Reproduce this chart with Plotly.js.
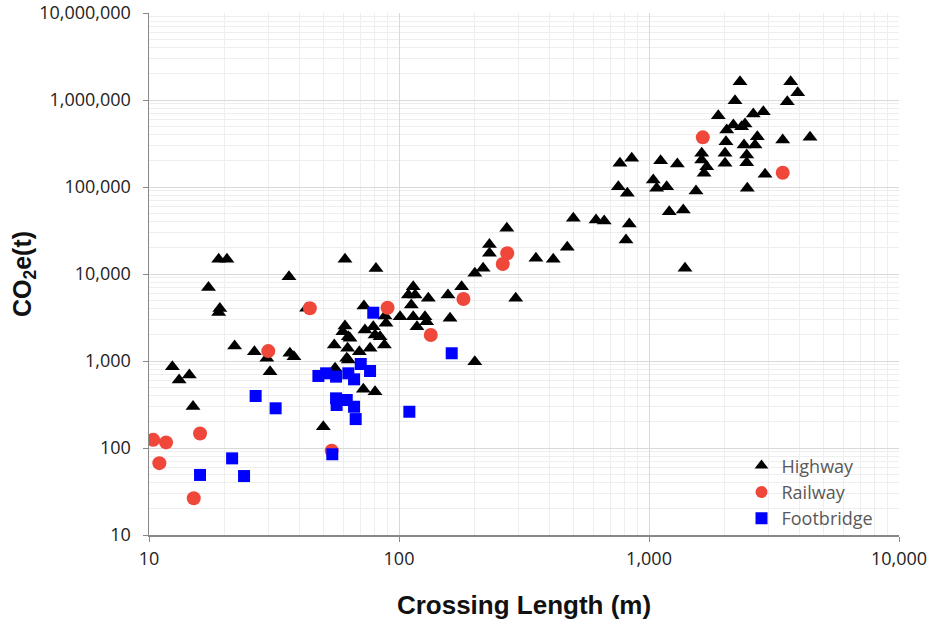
<!DOCTYPE html>
<html>
<head>
<meta charset="utf-8">
<script src="https://cdn.plot.ly/plotly-3.0.1.min.js"></script>
<style>html,body{margin:0;padding:0;background:#fff;}#chart{width:932px;height:624px;}</style>
</head>
<body>
<div id="chart"></div>
<script>
// Highway: crossing length (m) and CO2e (t)
const highwayLength = [19.0,20.5,17.3,19.2,19.0,36.3,60.8,80.9,22.0,26.4,36.6,38.0,29.6,30.5,12.4,13.2,14.5,15.0,49.8,72.4,72.0,80.2,42.7,60.8,59.6,63.7,55.1,62.3,62.7,69.4,73.1,78.9,80.2,84.0,76.6,87.4,88.7,87.9,55.5,62.7,61.8,101,109,114,116,131,112,114,127,118,129,157,178,160,201,201,217,230,230,270,293,353,414,471,498,614,662,765,853,754,819,834,809,1040,1073,1177,1113,1298,1205,1371,1542,1393,2312,3686,3935,3574,2208,1893,2613,2866,2046,2175,2347,2421,2032,2399,2712,2655,2014,2460,2014,2460,1625,1625,1702,1660,3427,4406,2911,2473];
const highwayCO2 = [14750,14750,7000,4000,3600,9300,14750,11600,1490,1280,1230,1120,1075,750,860,605,690,300,176,4290,472,444,4040,2525,2170,1820,1530,1400,1030,1280,2270,2480,1990,1900,1400,1530,2710,3290,824,1900,1075,3230,5740,7140,5740,5260,4410,3230,3230,2480,2830,5740,7140,3090,982,10190,11640,17300,21900,33500,5260,15140,14750,20300,43600,41800,40600,187000,213600,100700,84700,37600,24600,120000,96600,100700,200000,183500,52000,54400,90000,11640,1622000,1622000,1213000,957000,982000,660000,690000,734000,451000,516000,494000,530000,332000,304000,379000,304000,244000,233000,187000,190000,244000,204000,171000,143500,347000,372000,139700,96600];

// Railway
const railwayLength = [44,90,30,10.4,11.7,11.0,16.0,15.1,53.8,134,181,260,271,1641,3427];
const railwayCO2 = [4040,4100,1300,124,116,67,147,26.4,93,1990,5160,13030,17300,372000,146000];

// Footbridge
const footLength = [78.9,26.7,32.1,21.5,16,24,54.1,47.6,51.1,56,62.7,66.1,70.3,76.6,56,61.8,56.3,66.1,67.1,110,162.5];
const footCO2 = [3590,396,286,76,49,47.6,84.7,673,722,661,722,616,924,767,372,356,312,298,215,261,1227];

const seriesNames = ["Highway","Railway","Footbridge"];
const xTickVals = [10,100,1000,10000];
const xTickText = ["10","100","1,000","10,000"];
const yTickVals = [10,100,1000,10000,100000,1000000,10000000];
const yTickText = ["10","100","1,000","10,000","100,000","1,000,000","10,000,000"];

const traces = [
  {x: highwayLength, y: highwayCO2, name: seriesNames[0], mode: "markers", type: "scatter",
   marker: {symbol: "triangle-up", size: 13, color: "#000000"}},
  {x: railwayLength, y: railwayCO2, name: seriesNames[1], mode: "markers", type: "scatter",
   marker: {symbol: "circle", size: 14, color: "#f0473b"}},
  {x: footLength, y: footCO2, name: seriesNames[2], mode: "markers", type: "scatter",
   marker: {symbol: "square", size: 12, color: "#0000ff"}}
];

const tickFont = {family: "Open Sans, Noto Sans, sans-serif", size: 18, color: "#222"};
const titleFont = {family: "Liberation Sans, Arial, sans-serif", size: 25, color: "#111", weight: "bold"};
const layout = {
  width: 932, height: 624,
  margin: {l: 149, r: 33, t: 13, b: 89},
  paper_bgcolor: "#fff", plot_bgcolor: "#fff",
  showlegend: true,
  legend: {x: 0.79, y: 0.168, xanchor: "left", yanchor: "top", bgcolor: "rgba(0,0,0,0)",
           font: {family: "Open Sans, Noto Sans, sans-serif", size: 18, color: "#595959"},
           itemsizing: "constant", tracegroupgap: 0},
  xaxis: {type: "log", range: [1, 4], tickvals: xTickVals, ticktext: xTickText,
          tickfont: tickFont, ticks: "outside", ticklen: 5, tickcolor: "#888",
          ticklabelstandoff: 2,
          showline: true, linecolor: "#888", linewidth: 1.5, mirror: false,
          showgrid: true, gridcolor: "#d9d9d9", gridwidth: 1, zeroline: false,
          minor: {showgrid: true, gridcolor: "#eeeeee", gridwidth: 1, dtick: "D1", ticks: ""},
          title: {text: "Crossing Length (m)", standoff: 26, font: Object.assign({}, titleFont, {size: 26})}},
  yaxis: {type: "log", range: [1, 7], tickvals: yTickVals, ticktext: yTickText,
          tickfont: tickFont, ticks: "outside", ticklen: 5, tickcolor: "#888",
          ticklabelstandoff: 8,
          showline: true, linecolor: "#888", linewidth: 1.5, mirror: false,
          showgrid: true, gridcolor: "#d9d9d9", gridwidth: 1, zeroline: false,
          minor: {showgrid: true, gridcolor: "#eeeeee", gridwidth: 1, dtick: "D1", ticks: ""},
          title: {text: "CO<sub>2</sub>e(t)", standoff: 0, font: titleFont}}
};

Plotly.newPlot("chart", traces, layout, {displayModeBar: false, staticPlot: true});
</script>
</body>
</html>
